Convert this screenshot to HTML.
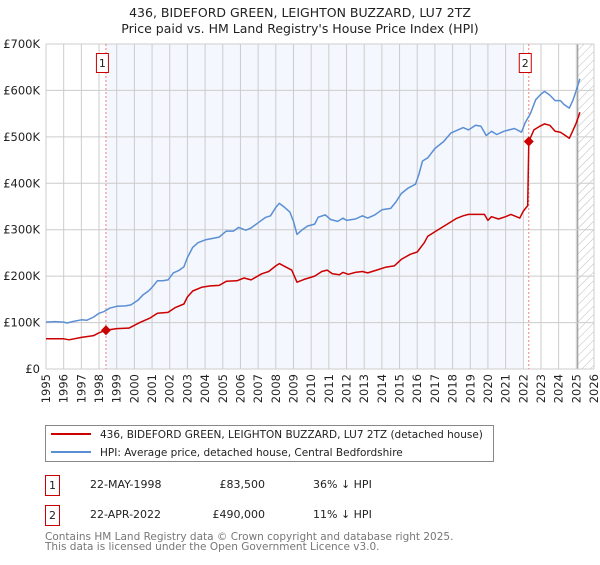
<!DOCTYPE html>
<html><head><meta charset="utf-8"><style>
body{margin:0;background:#fff;font-family:"Liberation Sans","DejaVu Sans",sans-serif;}
svg text{font-family:"DejaVu Sans","Liberation Sans",sans-serif;}
</style></head><body>
<svg id="c" width="600" height="560" xmlns="http://www.w3.org/2000/svg">
<defs><pattern id="hatch" width="6" height="6" patternUnits="userSpaceOnUse" patternTransform="rotate(45)"><line x1="0" y1="0" x2="0" y2="6" stroke="#bbb" stroke-width="1"/></pattern></defs>
<text x="300" y="17" font-size="12.5" text-anchor="middle" fill="#222">436, BIDEFORD GREEN, LEIGHTON BUZZARD, LU7 2TZ</text>
<text x="300" y="33" font-size="12.5" text-anchor="middle" fill="#222">Price paid vs. HM Land Registry's House Price Index (HPI)</text>
<g id="grid"></g><g id="series"></g><g id="marks"></g>
<g>
<rect x="45.5" y="425.5" width="448" height="36" fill="#fff" stroke="#888"/>
<line x1="51" y1="434" x2="91" y2="434" stroke="#cc0000" stroke-width="2"/>
<text x="100" y="438" font-size="10.5" fill="#222">436, BIDEFORD GREEN, LEIGHTON BUZZARD, LU7 2TZ (detached house)</text>
<line x1="51" y1="452" x2="91" y2="452" stroke="#5b8fd4" stroke-width="2"/>
<text x="100" y="456" font-size="10.5" fill="#222">HPI: Average price, detached house, Central Bedfordshire</text>
</g>
<g font-size="11" fill="#222">
<rect x="45.5" y="475.5" width="14" height="20" fill="#fff" stroke="#cc0000"/><text x="52.5" y="489" text-anchor="middle">1</text>
<text x="90" y="488">22-MAY-1998</text><text x="265" y="488" text-anchor="end">£83,500</text><text x="313" y="488">36% ↓ HPI</text>
<rect x="45.5" y="505.5" width="14" height="20" fill="#fff" stroke="#cc0000"/><text x="52.5" y="519" text-anchor="middle">2</text>
<text x="90" y="518">22-APR-2022</text><text x="265" y="518" text-anchor="end">£490,000</text><text x="313" y="518">11% ↓ HPI</text>
</g>
<text x="45" y="540" font-size="10.5" fill="#777">Contains HM Land Registry data © Crown copyright and database right 2025.</text>
<text x="45" y="550" font-size="10.5" fill="#777">This data is licensed under the Open Government Licence v3.0.</text>
</svg>
<script>
const years=[1995,1996,1997,1998,1999,2000,2001,2002,2003,2004,2005,2006,2007,2008,2009,2010,2011,2012,2013,2014,2015,2016,2017,2018,2019,2020,2021,2022,2023,2024,2025,2026];
const yTicks=[0,100,200,300,400,500,600,700];
const yTickLabels=["£0","£100K","£200K","£300K","£400K","£500K","£600K","£700K"];
const hpiT=[1995.0,1995.5,1996.0,1996.2,1996.5,1997.0,1997.3,1997.7,1998.0,1998.3,1998.6,1999.0,1999.5,1999.8,2000.2,2000.5,2000.8,2001.0,2001.3,2001.6,2001.9,2002.2,2002.5,2002.8,2003.0,2003.3,2003.6,2004.0,2004.4,2004.8,2005.2,2005.6,2005.9,2006.3,2006.6,2007.0,2007.4,2007.7,2008.0,2008.2,2008.5,2008.8,2009.0,2009.2,2009.5,2009.8,2010.2,2010.4,2010.8,2011.1,2011.5,2011.8,2012.0,2012.5,2012.9,2013.2,2013.6,2014.0,2014.5,2014.8,2015.1,2015.5,2015.9,2016.1,2016.3,2016.6,2017.0,2017.5,2017.9,2018.3,2018.6,2018.9,2019.3,2019.6,2019.9,2020.2,2020.5,2020.9,2021.2,2021.5,2021.9,2022.1,2022.4,2022.7,2023.0,2023.2,2023.5,2023.8,2024.1,2024.3,2024.6,2024.8,2025.0,2025.2];
const hpiV=[101,102,101,99,102,106,105,112,120,124,131,135,136,138,148,160,168,176,190,190,192,207,212,220,240,262,272,278,281,284,297,297,305,299,304,315,326,330,348,357,348,338,318,290,300,308,312,327,332,322,318,325,320,323,330,325,332,343,346,360,378,390,398,420,448,455,475,490,508,515,520,515,525,523,503,512,505,512,515,518,510,530,550,580,592,598,590,578,578,570,562,578,600,625];
const priceT=[1995.0,1996.0,1996.3,1997.0,1997.7,1998.0,1998.39,1999.0,1999.7,2000.3,2000.9,2001.3,2001.9,2002.3,2002.8,2003.0,2003.3,2003.8,2004.3,2004.8,2005.2,2005.8,2006.2,2006.6,2007.2,2007.6,2008.0,2008.2,2008.6,2008.9,2009.2,2009.6,2010.2,2010.6,2010.9,2011.2,2011.6,2011.8,2012.1,2012.5,2012.9,2013.2,2013.7,2014.2,2014.7,2015.1,2015.6,2016.0,2016.4,2016.6,2017.1,2017.7,2018.2,2018.6,2018.9,2019.4,2019.8,2020.0,2020.2,2020.6,2021.0,2021.3,2021.8,2022.0,2022.25,2022.31,2022.6,2022.9,2023.2,2023.5,2023.8,2024.1,2024.3,2024.6,2024.8,2025.0,2025.2];
const priceV=[65,65,63,68,72,78,83.5,87,88,100,110,120,122,132,140,155,168,176,179,180,189,190,196,192,205,210,222,227,219,213,187,193,200,210,213,205,203,208,204,208,210,207,213,219,222,236,247,252,272,286,298,312,324,330,333,333,333,320,328,323,328,333,325,340,352,490,515,522,528,525,512,510,505,497,513,530,553];
const saleT=[1998.39,2022.31];
const saleV=[83.5,490];
const saleLabels=["1","2"];
const X0=46,X1=594,Y0=369,Y1=44;
const xs=t=>X0+(t-1995)/(2026-1995)*(X1-X0);
const ys=v=>Y0-v/700*(Y0-Y1);
const NS="http://www.w3.org/2000/svg";
function mk(tag,attrs,parent){const e=document.createElementNS(NS,tag);for(const k in attrs)e.setAttribute(k,attrs[k]);parent.appendChild(e);return e;}
const grid=document.getElementById('grid'),series=document.getElementById('series'),marks=document.getElementById('marks');
let r=mk('rect',{x:xs(saleT[0]),y:Y1,width:xs(2021.9)-xs(saleT[0]),height:Y0-Y1,fill:'#f4f7fd'},grid);


let h=mk('rect',{x:xs(2025.08),y:Y1,width:X1-xs(2025.08),height:Y0-Y1,fill:'url(#hatch)'},grid);


mk('line',{x1:xs(2025.08),y1:Y1,x2:xs(2025.08),y2:Y0,stroke:'#888'},grid);
years.forEach(y=>{
 const l=mk('line',{x1:xs(y),y1:Y1,x2:xs(y),y2:Y0,stroke:'#ccc'},grid);
 
 
 const t=mk('text',{x:0,y:0,'font-size':'11.5',fill:'#222','text-anchor':'end',transform:`translate(${xs(y)+4},374) rotate(-90)`},grid);
 t.textContent=y;
 
 
});
yTicks.forEach((v,i)=>{
 const l=mk('line',{x1:X0,y1:ys(v),x2:X1,y2:ys(v),stroke:'#ccc'},grid);
 
 
 const t=mk('text',{x:40,y:ys(v)+4,'font-size':'11.5',fill:'#222','text-anchor':'end'},grid);
 t.textContent=yTickLabels[i];
 
 
});
saleT.forEach((t,i)=>{
 const l=mk('line',{x1:xs(t),y1:Y1,x2:xs(t),y2:Y0,stroke:'#f08080','stroke-dasharray':'2,2'},grid);
 
 
 mk('rect',{x:xs(t)-9.5,y:53.5,width:12,height:19,fill:'#fff',stroke:'#cc0000'},marks);
 const tx=mk('text',{x:xs(t)-3.5,y:67,'font-size':'11',fill:'#222','text-anchor':'middle'},marks);
 tx.textContent=saleLabels[i];
 
 
});
function line(T,V,col,name){
 const d=T.map((t,i)=>(i?'L':'M')+xs(t).toFixed(1)+','+ys(V[i]).toFixed(1)).join('');
 const p=mk('path',{d:d,fill:'none',stroke:col,'stroke-width':1.5,'stroke-linejoin':'round'},series);
 
 
}
line(hpiT,hpiV,'#5b8fd4','hpi-line');
line(priceT,priceV,'#cc0000','property-price-line');
saleT.forEach((t,i)=>{
 const x=xs(t),y=ys(saleV[i]);
 const p=mk('polygon',{points:`${x},${y-5} ${x+5},${y} ${x},${y+5} ${x-5},${y}`,fill:'#cc0000'},series);
 
 
});
</script>
</body></html>
